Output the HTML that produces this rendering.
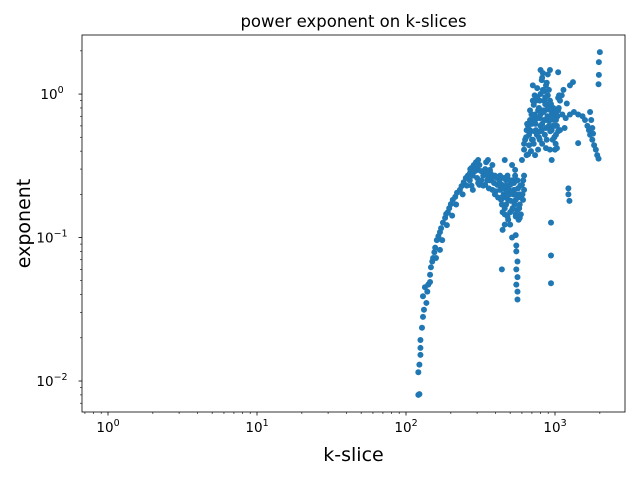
<!DOCTYPE html>
<html><head><meta charset="utf-8"><style>
body{margin:0;background:#fff}
svg text{font-family:"DejaVu Sans","Liberation Sans",sans-serif;fill:#000}
</style></head><body>
<svg id="chart" width="640" height="480" xmlns="http://www.w3.org/2000/svg">
<rect width="640" height="480" fill="#fff"/>
<text x="353.5" y="27" text-anchor="middle" font-size="16.5">power exponent on k-slices</text>
<text x="353.5" y="461" text-anchor="middle" font-size="19">k-slice</text>
<text transform="translate(30,223.5) rotate(-90)" text-anchor="middle" font-size="19">exponent</text>
<g id="marks"></g>
<g id="axes"></g>
</svg>
<script>
const kValues=[121,123,121,123,125,125,125,128,130,132,137,130,139,134,141,145,145,147,150,152,155,157,161,165,169,172,177,183,186,191,195,200,206,214,220,230,236,244,252,260,268,275,285,295,305,159,175,188,204,217,240,256,169,
268,281,305,311,330,340,355,366,380,340,311,281,366,395,410,428,395,380,355,320,305,275,345,
428,440,452,470,445,460,485,500,515,530,545,560,580,600,620,540,580,515,485,460,445,500,545,570,590,610,620,560,525,490,470,435,460,515,
440,515,545,550,560,550,560,550,560,560,550,580,940,940,940,
600,620,630,645,660,670,680,680,695,710,720,730,710,735,745,770,790,800,815,830,845,855,870,880,895,910,925,940,950,965,985,1015,1030,1050,1065,925,895,870,845,815,790,770,735,710,680,670,645,755,800,855,910,950,1000,880,925,965,1015,1000,1030,950,1080,1080,1050,790,830,745,730,
1110,1140,1200,1180,1260,1340,1320,1430,1530,1590,1650,1690,1720,1780,1830,1880,1920,1960,1430,1720,1750,1780,1800,2000,1970,1970,1960,1230,1230,1250,1260,1120,1160,1050,
270,290,300,320,330,350,360,370,390,400,415,425,435,450,455,465,475,480,495,505,520,535,550,565,575,590,605,612,300,345,380,410,440,470,500,530,560,585,520,545,460,480,500,440,555,540,
620,640,650,690,700,720,740,760,780,800,820,840,860,870,890,905,915,930,960,975,1000,1020,1040,1060,760,800,820,850,880,900,780,820,870,720,690,660,760,830,860,940,990,1010,1050,730,800,700];
const expValues=[0.0080,0.0081,0.0115,0.013,0.0152,0.017,0.0193,0.0235,0.028,0.0314,0.035,0.039,0.042,0.045,0.047,0.049,0.055,0.062,0.068,0.072,0.079,0.085,0.096,0.102,0.109,0.116,0.127,0.137,0.146,0.150,0.160,0.171,0.183,0.192,0.205,0.215,0.228,0.243,0.26,0.27,0.28,0.305,0.32,0.335,0.347,0.072,0.096,0.122,0.142,0.17,0.2,0.23,0.082,
0.25,0.27,0.296,0.32,0.27,0.30,0.347,0.296,0.32,0.233,0.233,0.215,0.25,0.27,0.233,0.215,0.2,0.215,0.27,0.25,0.24,0.23,0.335,
0.27,0.233,0.2,0.17,0.15,0.145,0.183,0.233,0.25,0.215,0.183,0.156,0.2,0.233,0.27,0.296,0.17,0.156,0.133,0.123,0.113,0.123,0.145,0.133,0.145,0.183,0.215,0.25,0.2,0.215,0.25,0.183,0.347,0.32,
0.06,0.1,0.104,0.088,0.068,0.06,0.053,0.047,0.042,0.037,0.08,0.137,0.127,0.075,0.048,
0.347,0.41,0.48,0.56,0.6,0.52,0.66,0.77,0.72,0.9,0.84,0.98,1.15,0.66,0.56,0.77,0.9,1.47,1.25,1.07,0.9,0.77,0.66,0.84,0.98,1.07,0.9,0.77,0.72,0.6,0.66,0.66,0.6,0.94,0.98,1.47,1.37,1.15,0.66,0.56,0.48,0.41,0.375,0.48,0.56,0.44,0.375,0.52,0.6,0.52,0.6,0.56,0.6,0.48,0.41,0.48,0.52,0.41,0.42,0.347,0.56,0.9,1.42,0.68,0.77,0.9,0.72,
0.98,1.07,0.86,0.68,0.72,0.75,1.21,0.72,0.7,0.66,0.6,0.56,0.52,0.48,0.44,0.41,0.375,0.355,0.455,0.75,0.66,0.58,0.53,1.96,1.67,1.36,1.17,0.22,0.2,0.18,1.15,0.72,0.58,0.77,
0.3,0.29,0.26,0.29,0.23,0.25,0.22,0.28,0.24,0.21,0.19,0.25,0.23,0.22,0.26,0.19,0.21,0.27,0.2,0.18,0.21,0.17,0.2,0.22,0.16,0.19,0.2,0.25,0.31,0.28,0.26,0.26,0.19,0.23,0.25,0.24,0.19,0.23,0.16,0.14,0.16,0.14,0.15,0.17,0.25,0.27,
0.45,0.5,0.62,0.55,0.62,0.7,0.62,0.68,0.8,0.72,0.62,0.75,0.85,0.58,0.7,0.78,0.65,0.55,0.7,0.8,0.72,0.75,0.7,0.8,0.95,1.0,1.3,1.05,1.2,0.8,0.5,0.45,0.42,0.45,0.4,0.38,1.1,1.4,0.95,0.85,0.5,0.45,0.55,0.55,0.55,0.48];
const xTickValues=[1,10,100,1000];
const xTickExps=["0","1","2","3"];
const yTickValues=[0.01,0.1,1];
const yTickExps=["−2","−1","0"];

const NS="http://www.w3.org/2000/svg";
const L=82,R=625,T=35,B=412;
const xMin=Math.log10(0.669),xMax=Math.log10(2950);
const yMin=Math.log10(0.00608),yMax=Math.log10(2.58);
function xScale(v){return L+(Math.log10(v)-xMin)/(xMax-xMin)*(R-L);}
function yScale(v){return B-(Math.log10(v)-yMin)/(yMax-yMin)*(B-T);}
function mk(tag,attrs,parent){const e=document.createElementNS(NS,tag);for(const k in attrs)e.setAttribute(k,attrs[k]);parent.appendChild(e);return e;}

const marks=document.getElementById('marks');
for(let i=0;i<kValues.length;i++){
  const c=mk('circle',{cx:xScale(kValues[i]),cy:yScale(expValues[i]),r:3,fill:'#1f77b4'},marks);
  
  
}
const axes=document.getElementById('axes');
const frame=mk('rect',{x:L,y:T,width:R-L,height:B-T,fill:'none',stroke:'#000','stroke-width':0.8},axes);


for(let d=-1;d<=3;d++){for(let m=1;m<=9;m++){const v=m*Math.pow(10,d);const x=xScale(v);if(x<L||x>R)continue;
  mk('line',{x1:x,x2:x,y1:B,y2:B+(m===1?3.5:2),stroke:'#000','stroke-width':m===1?0.8:0.6},axes);}}
for(let i=0;i<xTickValues.length;i++){
  const t=mk('text',{x:xScale(xTickValues[i]),y:B+20,'text-anchor':'middle','font-size':13.5},axes);
  
  
  t.textContent='10';
  const s=mk('tspan',{dy:-6,'font-size':9.5},t);s.textContent=xTickExps[i];
}
for(let d=-3;d<=0;d++){for(let m=1;m<=9;m++){const v=m*Math.pow(10,d);const y=yScale(v);if(y<T||y>B)continue;
  mk('line',{x1:L,x2:L-(m===1?3.5:2),y1:y,y2:y,stroke:'#000','stroke-width':m===1?0.8:0.6},axes);}}
for(let i=0;i<yTickValues.length;i++){
  const t=mk('text',{x:L-30,y:yScale(yTickValues[i])+5,'text-anchor':'middle','font-size':13.5},axes);
  
  
  t.textContent='10';
  const s=mk('tspan',{dy:-6,'font-size':9.5},t);s.textContent=yTickExps[i];
}
</script>
</body></html>
